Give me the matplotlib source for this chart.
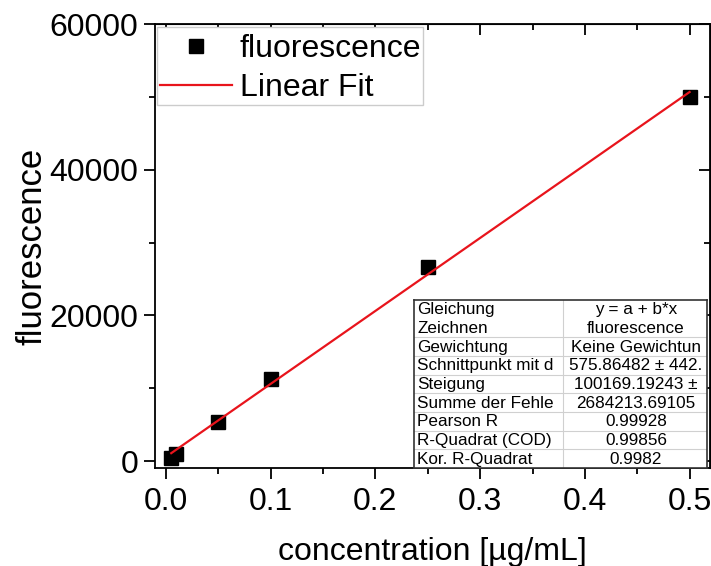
import matplotlib
matplotlib.use("Agg")
import matplotlib.pyplot as plt
import numpy as np
from matplotlib.ticker import MultipleLocator
from matplotlib.patches import Rectangle

plt.rcParams['font.family'] = ['Liberation Sans', 'DejaVu Sans']

conc = [0.005, 0.01, 0.05, 0.1, 0.25, 0.5]
fluor = [420, 960, 5400, 11200, 26650, 50000]
fit_a = 575.86482
fit_b = 100169.19243

table_labels = ["Gleichung", "Zeichnen", "Gewichtung", "Schnittpunkt mit d",
                "Steigung", "Summe der Fehle", "Pearson R",
                "R-Quadrat (COD)", "Kor. R-Quadrat"]
table_values = ["y = a + b*x", "fluorescence", "Keine Gewichtun",
                "575.86482 \u00b1 442.", "100169.19243 \u00b1", "2684213.69105",
                "0.99928", "0.99856", "0.9982"]

W, H = 711, 566
fig = plt.figure(figsize=(W/100, H/100), dpi=100)
ax = fig.add_axes([155/W, 1-468/H, (710-155)/W, (468-24)/H])

xfit = np.array([conc[0], conc[-1]])
ax.plot(conc, fluor, 's', color='black', markersize=10, label='fluorescence', zorder=3)
ax.plot(xfit, fit_a + fit_b*xfit, '-', color='#e8141c', lw=1.6, label='Linear Fit', zorder=4)

ax.set_xlim(-0.0105, 0.5195)
ax.set_ylim(-960, 60000)
ax.xaxis.set_major_locator(MultipleLocator(0.1))
ax.xaxis.set_minor_locator(MultipleLocator(0.05))
ax.yaxis.set_major_locator(MultipleLocator(20000))
ax.yaxis.set_minor_locator(MultipleLocator(10000))
ax.xaxis.set_major_formatter(matplotlib.ticker.FormatStrFormatter('%.1f'))

for s in ax.spines.values():
    s.set_linewidth(1.3)
ax.tick_params(which='both', direction='out', width=1.3, labelsize=23, colors='black')
ax.tick_params(which='major', length=8)
ax.tick_params(which='minor', length=4)
ax.tick_params(axis='x', pad=6)
ax.tick_params(axis='y', pad=4)

# mirrored inward ticks on top/right
axt = ax.secondary_xaxis('top')
axt.xaxis.set_major_locator(MultipleLocator(0.1))
axt.xaxis.set_minor_locator(MultipleLocator(0.05))
axt.tick_params(which='both', direction='in', labeltop=False, width=1.3)
axt.tick_params(which='major', length=8)
axt.tick_params(which='minor', length=4)
axr = ax.secondary_yaxis('right')
axr.yaxis.set_major_locator(MultipleLocator(20000))
axr.yaxis.set_minor_locator(MultipleLocator(10000))
axr.tick_params(which='both', direction='in', labelright=False, width=1.3)
axr.tick_params(which='major', length=8)
axr.tick_params(which='minor', length=4)

ax.set_xlabel('concentration [\u00b5g/mL]', fontsize=23, labelpad=14)
ax.set_ylabel('fluorescence', fontsize=25, labelpad=1)

# legend frame drawn separately for exact placement
frame = Rectangle((157/W, 1-105/H), (423-157)/W, (105-27)/H,
                  transform=fig.transFigure, facecolor='white',
                  edgecolor='#cccccc', lw=1.0, zorder=5, clip_on=False)
ax.add_artist(frame)
leg = ax.legend(loc='upper left', bbox_to_anchor=(160/W, 1-34/H),
                bbox_transform=fig.transFigure, fontsize=23, frameon=False,
                handlelength=2.25, handletextpad=0.25, borderpad=0,
                labelspacing=0.28, borderaxespad=0)
leg.set_zorder(6)

# results table
tl, tr, tt, tb = 414, 707, 300, 468
tax = fig.add_axes([tl/W, 1-tb/H, (tr-tl)/W, (tb-tt)/H])
tax.set_xlim(0, tr-tl)
tax.set_ylim(tb-tt, 0)
tax.set_xticks([]); tax.set_yticks([])
tax.patch.set_facecolor('white')
for k, s in tax.spines.items():
    s.set_linewidth(1.2)
    s.set_color('#333333')
n = len(table_labels)
rh = (tb-tt)/n
colx = 563-tl
tax.plot([colx, colx], [0, tb-tt], color='#d0d0d0', lw=0.8)
for i in range(2, n):
    tax.plot([0, tr-tl], [i*rh, i*rh], color='#d0d0d0', lw=0.8)
for i, (lab, val) in enumerate(zip(table_labels, table_values)):
    y = (i+0.5)*rh + 0.5
    tax.text(3, y, lab, fontsize=12.3, va='center', ha='left', clip_on=True)
    tax.text((colx+(tr-tl))/2 + 1, y, val, fontsize=12.3, va='center', ha='center', clip_on=True)

fig.savefig('out.png', dpi=100)
